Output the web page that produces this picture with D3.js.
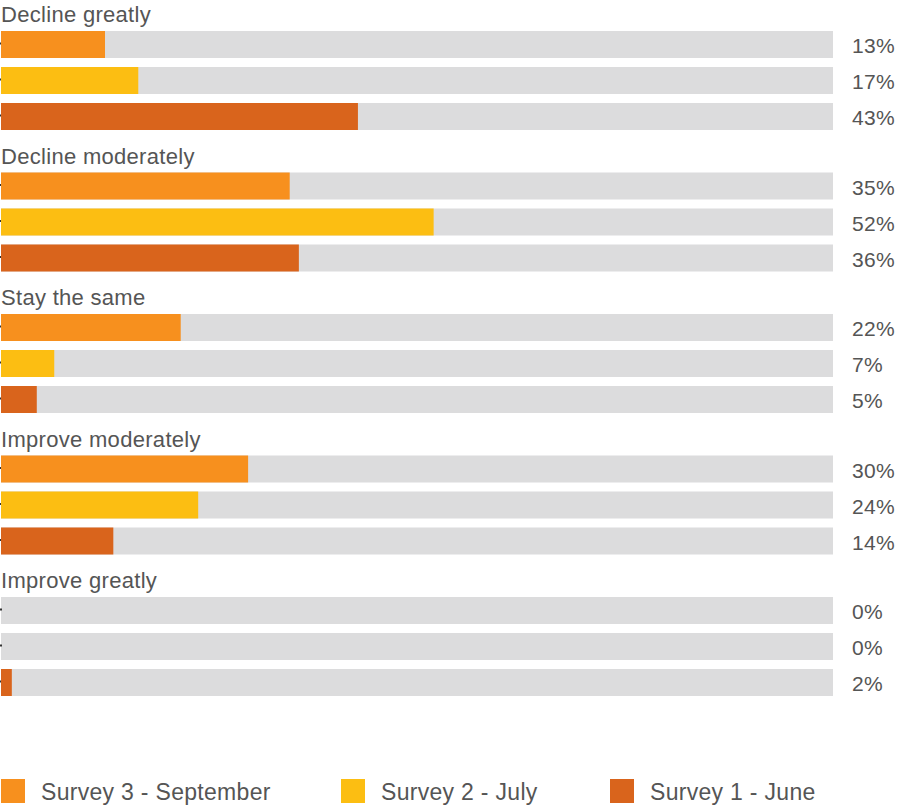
<!DOCTYPE html>
<html>
<head>
<meta charset="utf-8">
<script src="https://cdn.jsdelivr.net/npm/d3@7"></script>
<style>
  html, body { margin: 0; padding: 0; background: #fff; }
  svg { display: block; }
  text { font-family: "Liberation Sans", Arial, sans-serif; fill: #555; letter-spacing: 0.3px; }
</style>
</head>
<body>
<svg id="chart" width="901" height="807"></svg>
<script>
const categories = ["Decline greatly", "Decline moderately", "Stay the same", "Improve moderately", "Improve greatly"];
const seriesNames = ["Survey 3 - September", "Survey 2 - July", "Survey 1 - June"];
const seriesColors = ["#F7901E", "#FCBE12", "#D9641C"];
// values (percent)
const survey3 = [12.5, 34.7, 21.6, 29.7, 0];
const survey2 = [16.5, 52.0, 6.4, 23.7, 0];
const survey1 = [42.9, 35.8, 4.3, 13.5, 1.3];
// printed labels
const labels3 = ["13%", "35%", "22%", "30%", "0%"];
const labels2 = ["17%", "52%", "7%", "24%", "0%"];
const labels1 = ["43%", "36%", "5%", "14%", "2%"];

const seriesValues = [survey3, survey2, survey1];
const seriesLabels = [labels3, labels2, labels1];

const svg = d3.select("#chart");

const x = d3.scaleLinear().domain([0, 100]).range([1, 833]);
const yGroup = d3.scaleBand().domain(categories).range([0, 707.5]);
const yInner = d3.scaleBand().domain(seriesNames).range([31, 130]).paddingInner(0.25).paddingOuter(0);

const groups = svg.selectAll("g.grp")
  .data(categories)
  .join("g")
  .attr("class", "grp")
  .attr("transform", d => `translate(0,${yGroup(d)})`);

groups.append("text")
  .attr("x", 1)
  .attr("y", 22)
  .attr("font-size", 22)
  .text(d => d);

groups.each(function(cat, ci) {
  const g = d3.select(this);
  const rows = seriesNames.map((s, si) => ({
    s, si, v: seriesValues[si][ci], label: seriesLabels[si][ci]
  }));
  g.selectAll("rect.bg").data(rows).join("rect")
    .attr("class", "bg")
    .attr("x", x(0))
    .attr("y", d => yInner(d.s))
    .attr("width", x(100) - x(0))
    .attr("height", yInner.bandwidth())
    .attr("fill", "#DCDCDD");
  g.selectAll("line.tk").data(rows).join("line")
    .attr("class", "tk")
    .attr("x1", 0).attr("x2", 2)
    .attr("y1", d => yInner(d.s) + yInner.bandwidth() / 2 - 1)
    .attr("y2", d => yInner(d.s) + yInner.bandwidth() / 2 - 1)
    .attr("stroke", "#333")
    .attr("stroke-width", 2);
  g.selectAll("rect.val").data(rows).join("rect")
    .attr("class", "val")
    .attr("x", x(0))
    .attr("y", d => yInner(d.s))
    .attr("width", d => x(d.v) - x(0))
    .attr("height", yInner.bandwidth())
    .attr("fill", d => seriesColors[d.si]);
  g.selectAll("text.lbl").data(rows).join("text")
    .attr("class", "lbl")
    .attr("x", 852)
    .attr("y", d => yInner(d.s) + yInner.bandwidth() / 2 + 8.5)
    .attr("font-size", 21)
    .text(d => d.label);
});

// legend
const legendX = [1, 341, 610];
const legend = svg.selectAll("g.leg")
  .data(seriesNames)
  .join("g")
  .attr("class", "leg")
  .attr("transform", (d, i) => `translate(${legendX[i]},779)`);
legend.append("rect")
  .attr("width", 24).attr("height", 24)
  .attr("fill", (d, i) => seriesColors[i]);
legend.append("text")
  .attr("x", 40)
  .attr("y", 21)
  .attr("font-size", 23)
  .text(d => d);
</script>
</body>
</html>
